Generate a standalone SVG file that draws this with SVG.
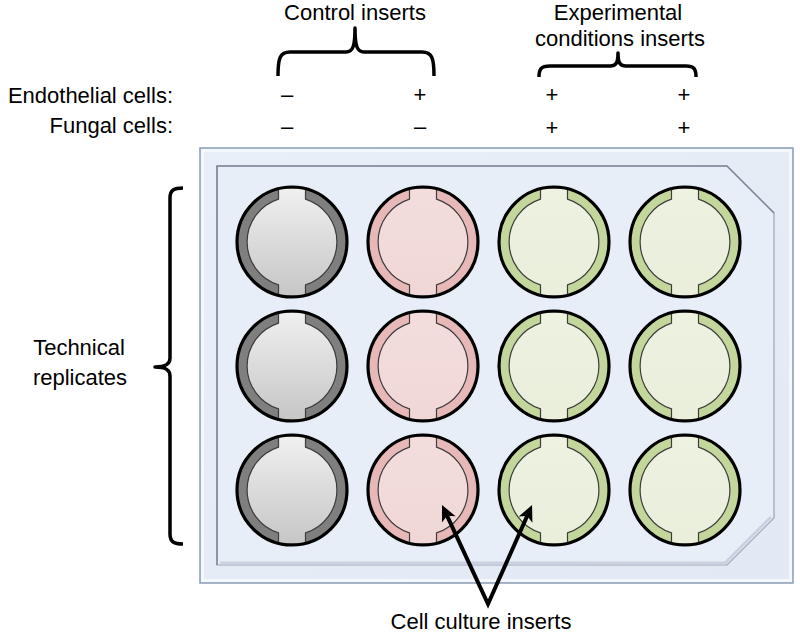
<svg xmlns="http://www.w3.org/2000/svg" width="800" height="634" viewBox="0 0 800 634">
<style>
text{font-family:"Liberation Sans",Arial,sans-serif;font-size:22px;fill:#000}
.mid{text-anchor:middle}
.end{text-anchor:end}
.brace{fill:none;stroke:#000;stroke-width:3.5;stroke-linecap:butt;stroke-linejoin:round}
.rim{fill:none;stroke:#000;stroke-width:3.2}
.ins{stroke:#3c3c3c;stroke-width:1.2}
.ring-gray{fill:#7f7f7f}
.ring-pink{fill:#e6b9b8}
.ring-green{fill:#c3d69b}
.ins-gray{fill:url(#gGray)}
.ins-pink{fill:url(#gPink)}
.ins-green{fill:url(#gGreen)}
.arrow{fill:none;stroke:#000;stroke-width:4;stroke-linejoin:miter;stroke-miterlimit:10}
</style>
<defs>
<linearGradient id="gGray" x1="0" y1="0" x2="0" y2="1">
<stop offset="0" stop-color="#f0f0f0"/><stop offset="1" stop-color="#c6c6c6"/>
</linearGradient>
<linearGradient id="gPink" x1="0" y1="0" x2="0" y2="1">
<stop offset="0" stop-color="#f3dedd"/><stop offset="1" stop-color="#f0d7d6"/>
</linearGradient>
<linearGradient id="gGreen" x1="0" y1="0" x2="0" y2="1">
<stop offset="0" stop-color="#edf2e1"/><stop offset="1" stop-color="#e9efdb"/>
</linearGradient>
<linearGradient id="gPlate" x1="0" y1="0" x2="1" y2="1">
<stop offset="0" stop-color="#e9eff8"/><stop offset="1" stop-color="#e2e9f4"/>
</linearGradient>
<path id="insert" d="M -13.5,-54 L -13.5,-42.9 A 45 45 0 0 0 -13.5,42.9 L -13.5,54 L 13.5,54 L 13.5,42.9 A 45 45 0 0 0 13.5,-42.9 L 13.5,-54 Z"/>
<marker id="head" viewBox="-12 -12 24 24" markerWidth="24" markerHeight="24" refX="0" refY="0" markerUnits="userSpaceOnUse" orient="auto-start-reverse">
<path d="M 8,0 L -8,-7.5 L -4,0 L -8,7.5 Z" fill="#000"/>
</marker>
</defs>

<!-- header labels -->
<g id="label-control">
<text class="mid" x="355" y="20">Control inserts</text>
</g>
<g id="label-experimental">
<text class="mid" x="618" y="20">Experimental</text>
<text class="mid" x="620" y="46">conditions inserts</text>
</g>
<g id="label-rows">
<text class="end" x="173" y="103">Endothelial cells:</text>
<text class="end" x="173" y="133">Fungal cells:</text>
</g>
<g id="signs">
<text class="mid" x="287" y="102">–</text>
<text class="mid" x="420" y="102">+</text>
<text class="mid" x="552" y="102">+</text>
<text class="mid" x="684" y="102">+</text>
<text class="mid" x="287" y="134">–</text>
<text class="mid" x="420" y="134">–</text>
<text class="mid" x="552" y="135">+</text>
<text class="mid" x="684" y="135">+</text>
</g>
<g id="label-replicates">
<text class="mid" x="79" y="355">Technical</text>
<text class="mid" x="80" y="385">replicates</text>
</g>
<g id="label-inserts">
<text class="mid" x="481" y="629">Cell culture inserts</text>
</g>

<!-- plate -->
<g id="plate">
<rect x="200" y="148" width="593" height="435" fill="url(#gPlate)" stroke="#8b9db5" stroke-width="1.5"/>
<rect x="202.5" y="150.5" width="588" height="430" fill="none" stroke="#f4f7fc" stroke-width="3"/>
<polygon points="217,166 727,166 774,213 774,518 727,565 217,565" fill="#e8eef7" stroke="#9aa6b6" stroke-width="1.2"/>
<polyline points="217,565 217,166 727,166 774,213" fill="none" stroke="#7e8896" stroke-width="1.5"/>
<polyline points="220,563 725,563 771,517" fill="none" stroke="#c9d2de" stroke-width="3"/>
</g>

<!-- wells -->
<g id="well-r1c1" transform="translate(292,242)"><circle r="55" class="ring-gray"/><use href="#insert" class="ins ins-gray"/><circle r="55" class="rim"/></g>
<g id="well-r2c1" transform="translate(292,366)"><circle r="55" class="ring-gray"/><use href="#insert" class="ins ins-gray"/><circle r="55" class="rim"/></g>
<g id="well-r3c1" transform="translate(292,490)"><circle r="55" class="ring-gray"/><use href="#insert" class="ins ins-gray"/><circle r="55" class="rim"/></g>
<g id="well-r1c2" transform="translate(423,242)"><circle r="55" class="ring-pink"/><use href="#insert" class="ins ins-pink"/><circle r="55" class="rim"/></g>
<g id="well-r2c2" transform="translate(423,366)"><circle r="55" class="ring-pink"/><use href="#insert" class="ins ins-pink"/><circle r="55" class="rim"/></g>
<g id="well-r3c2" transform="translate(423,490)"><circle r="55" class="ring-pink"/><use href="#insert" class="ins ins-pink"/><circle r="55" class="rim"/></g>
<g id="well-r1c3" transform="translate(554,242)"><circle r="55" class="ring-green"/><use href="#insert" class="ins ins-green"/><circle r="55" class="rim"/></g>
<g id="well-r2c3" transform="translate(554,366)"><circle r="55" class="ring-green"/><use href="#insert" class="ins ins-green"/><circle r="55" class="rim"/></g>
<g id="well-r3c3" transform="translate(554,490)"><circle r="55" class="ring-green"/><use href="#insert" class="ins ins-green"/><circle r="55" class="rim"/></g>
<g id="well-r1c4" transform="translate(685,242)"><circle r="55" class="ring-green"/><use href="#insert" class="ins ins-green"/><circle r="55" class="rim"/></g>
<g id="well-r2c4" transform="translate(685,366)"><circle r="55" class="ring-green"/><use href="#insert" class="ins ins-green"/><circle r="55" class="rim"/></g>
<g id="well-r3c4" transform="translate(685,490)"><circle r="55" class="ring-green"/><use href="#insert" class="ins ins-green"/><circle r="55" class="rim"/></g>

<!-- braces -->
<g id="braces">
<path class="brace" d="M 278,76 C 278,58 280,52 290,52 L 346,52 C 353,52 355,46 355,28 C 355,46 357,52 364,52 L 422,52 C 432,52 434,58 434,76"/>
<path class="brace" d="M 539,77 C 539,69 541,66 550,66 L 610,66 C 616,66 618,63 618,53 C 618,63 620,66 626,66 L 686,66 C 694,66 696,69 696,77"/>
<path class="brace" d="M 183,188 C 174,188 170,190 170,198 L 170,358 C 170,364 166,367 155,367 C 166,367 170,370 170,376 L 170,534 C 170,542 174,544 183,544"/>
</g>

<!-- connectors -->
<g id="connectors">
<path class="arrow" d="M 445.4,512.2 L 488,604 L 528.8,512.3" marker-start="url(#head)" marker-end="url(#head)"/>
</g>
</svg>
